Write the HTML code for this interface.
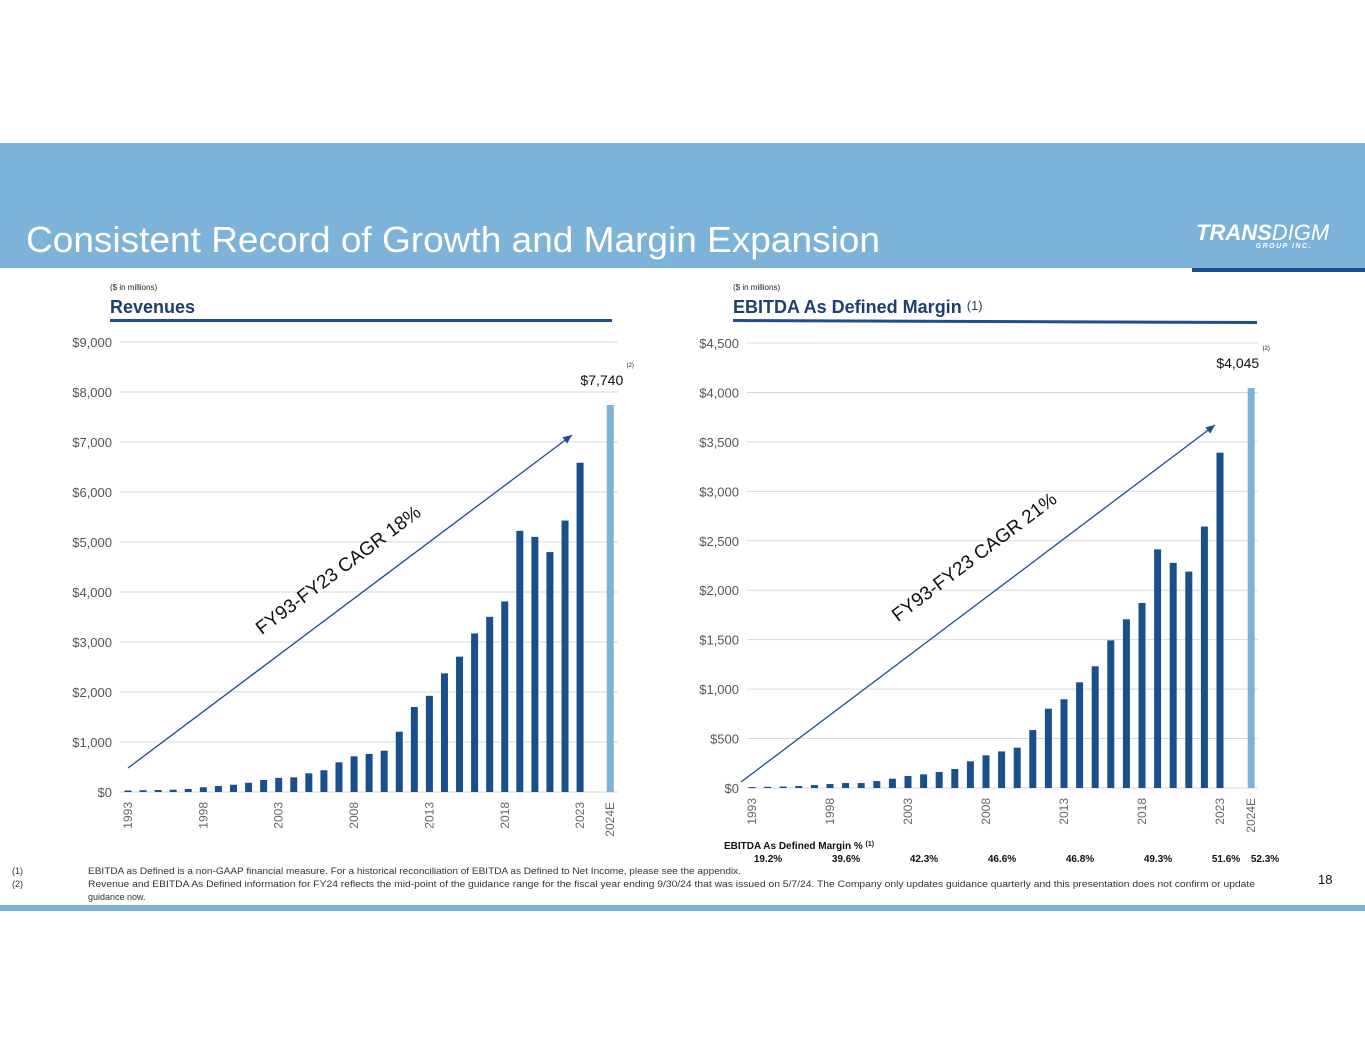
<!DOCTYPE html>
<html><head><meta charset="utf-8"><style>
body{margin:0;width:1365px;height:1055px;background:#fff;overflow:hidden;font-family:"Liberation Sans",sans-serif;}
svg{position:absolute;left:0;top:0;}
</style></head><body>
<svg id="s" width="1365" height="1055" xmlns="http://www.w3.org/2000/svg">
<rect x="0" y="143" width="1365" height="125" fill="#7EB3D9"/>
<rect x="1192" y="268" width="173" height="4" fill="#1B4F8F"/>
<text x="26" y="252" font-size="36" fill="#fff" textLength="854" lengthAdjust="spacingAndGlyphs">Consistent Record of Growth and Margin Expansion</text>
<text x="1196" y="240" font-size="22" font-weight="bold" font-style="italic" fill="#fff">TRANS<tspan font-weight="normal">DIGM</tspan></text>
<text x="1312" y="248" font-size="7" font-weight="bold" font-style="italic" fill="#fff" text-anchor="end" letter-spacing="1.5">GROUP INC.</text>
<text x="110" y="290" font-size="8" fill="#222">($ in millions)</text>
<text x="110" y="313" font-size="18" font-weight="bold" fill="#1F3F6E">Revenues</text>
<rect x="110" y="319" width="502" height="3" fill="#1F4E8C"/>
<text x="733" y="290" font-size="8" fill="#222">($ in millions)</text>
<text x="733" y="313" font-size="18" font-weight="bold" fill="#1F3F6E">EBITDA As Defined Margin <tspan font-weight="normal" font-size="13" dy="-3">(1)</tspan></text>
<polygon points="733,319 1257,321 1257,324 733,322" fill="#1F4E8C"/>
<g id="c1"></g><g id="c2"></g>
<text x="724" y="849" font-size="10" font-weight="bold" fill="#111">EBITDA As Defined Margin % <tspan font-size="7" dy="-3">(1)</tspan></text>
<g id="m"></g>
<text x="12" y="874" font-size="9" fill="#333">(1)<tspan x="88" textLength="653" lengthAdjust="spacingAndGlyphs">EBITDA as Defined is a non-GAAP financial measure. For a historical reconciliation of EBITDA as Defined to Net Income, please see the appendix.</tspan></text>
<text x="12" y="887" font-size="9" fill="#333">(2)<tspan x="88" textLength="1167" lengthAdjust="spacingAndGlyphs">Revenue and EBITDA As Defined information for FY24 reflects the mid-point of the guidance range for the fiscal year ending 9/30/24 that was issued on 5/7/24.  The Company only updates guidance quarterly and this presentation does not confirm or update</tspan><tspan x="88" dy="13">guidance now.</tspan></text>
<text x="1318" y="884" font-size="13" fill="#111">18</text>
<rect x="0" y="905" width="1365" height="6" fill="#7EB3D9"/>
</svg>
<script>
const years=["1993","1994","1995","1996","1997","1998","1999","2000","2001","2002","2003","2004","2005","2006","2007","2008","2009","2010","2011","2012","2013","2014","2015","2016","2017","2018","2019","2020","2021","2022","2023","2024E"];
const revenue=[30,35,40,45,60,95,120,145,185,240,283,293,374,435,593,714,762,827,1206,1700,1924,2373,2707,3171,3504,3811,5223,5103,4798,5429,6585,7740];
const ebitda=[10,12,15,20,30,40,50,50,70,94,121,138,162,192,270,330,370,408,586,802,897,1069,1231,1493,1706,1871,2413,2277,2188,2644,3391,4045];
const revTicks=[0,1000,2000,3000,4000,5000,6000,7000,8000,9000];
const ebTicks=[0,500,1000,1500,2000,2500,3000,3500,4000,4500];
const marginLabels=["19.2%","39.6%","42.3%","46.6%","46.8%","49.3%","51.6%","52.3%"];
const marginIdx=[0,5,10,15,20,25,30,31];
const NS="http://www.w3.org/2000/svg";
function mk(p,t,a){const e=document.createElementNS(NS,t);for(const k in a)e.setAttribute(k,a[k]);p.appendChild(e);return e;}
function chart(g,cfg){
 const y=v=>cfg.y0-(v-0)/cfg.max*(cfg.y0-cfg.y1);
 const x=i=>i<31?cfg.x0+i*cfg.dx:cfg.x0+32*cfg.dx;
 cfg.ticks.forEach(t=>{
  const l=mk(g,'line',{x1:cfg.gx0,x2:cfg.gx1,y1:y(t),y2:y(t),stroke:'#D9D9D9','stroke-width':1});
  
  
  const tx=mk(g,'text',{x:cfg.gx0-8,y:y(t)+5,'font-size':13,fill:'#555','text-anchor':'end'});
  tx.textContent='$'+t.toLocaleString('en-US');
  
  
 });
 cfg.vals.forEach((v,i)=>{
  const b=mk(g,'rect',{x:x(i)-3.5,y:y(v),width:7,height:cfg.y0-y(v),fill:i==31?'#7EB3D9':'#1A4F8E'});
  
  
  if(i%5==0||i==31){
   const t=mk(g,'text',{transform:`translate(${x(i)+4},${cfg.y0+10}) rotate(-90)`,'font-size':12,fill:'#666','text-anchor':'end'});
   t.textContent=years[i];
   
   
  }
 });
 const last=cfg.vals[31];
 const lt=mk(g,'text',{x:x(31)+cfg.lx,y:y(last)-20,'font-size':14,fill:'#111','text-anchor':'end'});
 lt.textContent='$'+last.toLocaleString('en-US');
 
 
 const n=mk(g,'text',{x:x(31)+cfg.lx+7,y:y(last)-38,'font-size':6,fill:'#111','text-anchor':'middle'});
 n.textContent='(2)';
 
 
 const a=cfg.arrow;
 const ln=mk(g,'line',{x1:a[0],y1:a[1],x2:a[2],y2:a[3],stroke:'#1F4E8C','stroke-width':1.3});
 
 
 const ang=Math.atan2(a[3]-a[1],a[2]-a[0]);
 const hx=a[2],hy=a[3],L=9,W=4;
 const p1=[hx-L*Math.cos(ang)+W*Math.sin(ang),hy-L*Math.sin(ang)-W*Math.cos(ang)];
 const p2=[hx-L*Math.cos(ang)-W*Math.sin(ang),hy-L*Math.sin(ang)+W*Math.cos(ang)];
 const ah=mk(g,'polygon',{points:`${hx},${hy} ${p1} ${p2}`,fill:'#1F4E8C'});
 
 
 const ct=mk(g,'text',{transform:`translate(${cfg.lbl[0]},${cfg.lbl[1]}) rotate(${ang*180/Math.PI})`,'font-size':19,fill:'#111','text-anchor':'middle'});
 ct.textContent=cfg.cagr;
 
 
 return x;
}
chart(document.getElementById('c1'),{y0:792,y1:342,max:9000,x0:128,dx:15.07,gx0:120,gx1:618,ticks:revTicks,vals:revenue,arrow:[128,768,572,435],lbl:[342,575],cagr:'FY93-FY23 CAGR 18%',lx:13});
const x2=chart(document.getElementById('c2'),{y0:788,y1:343,max:4500,x0:752,dx:15.6,gx0:747,gx1:1258,ticks:ebTicks,vals:ebitda,arrow:[741,782,1215,425],lbl:[978,562],cagr:'FY93-FY23 CAGR 21%',lx:8});
const mg=document.getElementById('m');
marginLabels.forEach((m,k)=>{
 const i=marginIdx[k];
 const px=i==30?1226:(i==31?1265:x2(i)+16);
 const t=mk(mg,'text',{x:px,y:862,'font-size':10,'font-weight':'bold',fill:'#111','text-anchor':'middle'});
 t.textContent=m;
 
 
});
</script>
</body></html>
